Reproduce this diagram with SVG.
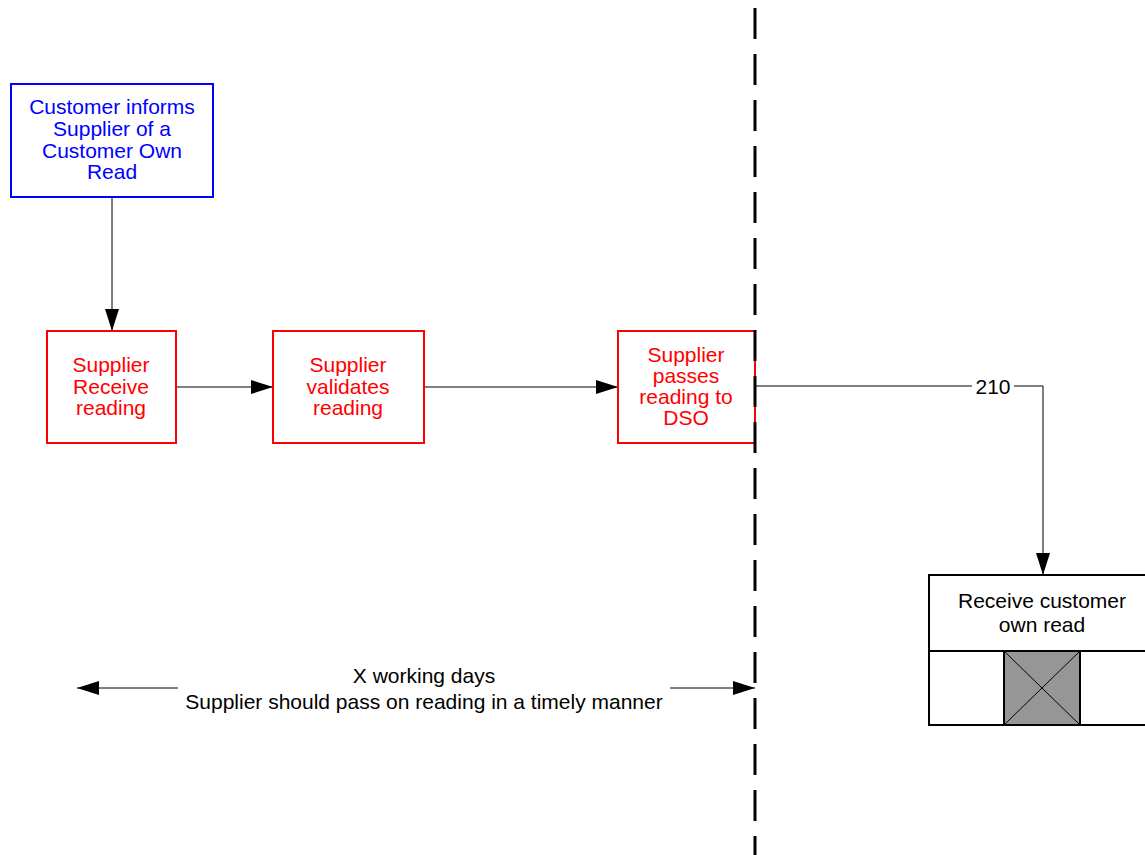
<svg xmlns="http://www.w3.org/2000/svg" width="1145" height="855" viewBox="0 0 1145 855">
<defs>
<style>
text{font-family:"Liberation Sans",Arial,sans-serif;font-size:21px;text-anchor:middle}
.blue{fill:#0000ff}
.red{fill:#ff0000}
.blk{fill:#000}
.ln{stroke:#000;stroke-width:1;fill:none}
</style>
<marker id="ah" markerWidth="22" markerHeight="14" refX="22" refY="7" orient="auto" markerUnits="userSpaceOnUse">
<path d="M0,0 L22,7 L0,14 Z" fill="#000"/>
</marker>
</defs>
<rect width="1145" height="855" fill="#fff"/>
<g id="connectors">
<line class="ln" x1="112" y1="197" x2="112" y2="331" marker-end="url(#ah)" stroke="#555"/>
<line class="ln" x1="176" y1="387" x2="273" y2="387" marker-end="url(#ah)"/>
<line class="ln" x1="424" y1="387" x2="618" y2="387" marker-end="url(#ah)"/>
<polyline class="ln" points="755,386 972,386"/>
<polyline class="ln" points="1014,386 1043,386 1043,575" marker-end="url(#ah)"/>
<text x="993" y="394" class="blk">210</text>
<line class="ln" x1="178" y1="688" x2="77" y2="688" marker-end="url(#ah)"/>
<line class="ln" x1="670" y1="688" x2="755" y2="688" marker-end="url(#ah)"/>
<text x="424" y="683" class="blk">X working days</text>
<text x="424" y="709" class="blk">Supplier should pass on reading in a timely manner</text>
</g>
<g id="n-customer">
<rect x="11" y="84" width="202" height="113" fill="#fff" stroke="#0000ff" stroke-width="2"/>
<text class="blue" x="112" y="114">Customer informs</text>
<text class="blue" x="112" y="136">Supplier of a</text>
<text class="blue" x="112" y="158">Customer Own</text>
<text class="blue" x="112" y="179">Read</text>
</g>
<g id="n-receive">
<rect x="47" y="331" width="129" height="112" fill="#fff" stroke="#ff0000" stroke-width="2"/>
<text class="red" x="111" y="372">Supplier</text>
<text class="red" x="111" y="394">Receive</text>
<text class="red" x="111" y="415">reading</text>
</g>
<g id="n-validate">
<rect x="273" y="331" width="151" height="112" fill="#fff" stroke="#ff0000" stroke-width="2"/>
<text class="red" x="348" y="372">Supplier</text>
<text class="red" x="348" y="394">validates</text>
<text class="red" x="348" y="415">reading</text>
</g>
<g id="n-pass">
<rect x="618" y="331" width="137" height="112" fill="#fff" stroke="#ff0000" stroke-width="2"/>
<text class="red" x="686" y="362">Supplier</text>
<text class="red" x="686" y="383">passes</text>
<text class="red" x="686" y="404">reading to</text>
<text class="red" x="686" y="425">DSO</text>
</g>
<g id="divider">
<line x1="755" y1="8" x2="755" y2="855" stroke="#000" stroke-width="3" stroke-dasharray="31,15"/>
</g>
<g id="n-dso-receive">
<rect x="929" y="575" width="220" height="150" fill="#fff" stroke="#000" stroke-width="2"/>
<line x1="929" y1="651" x2="1145" y2="651" stroke="#000" stroke-width="2"/>
<rect x="1004" y="651" width="76" height="74" fill="#969696" stroke="#000" stroke-width="2"/>
<line x1="1004" y1="651" x2="1080" y2="725" stroke="#000" stroke-width="1"/>
<line x1="1080" y1="651" x2="1004" y2="725" stroke="#000" stroke-width="1"/>
<text class="blk" x="1042" y="608">Receive customer</text>
<text class="blk" x="1042" y="632">own read</text>
</g>
</svg>
